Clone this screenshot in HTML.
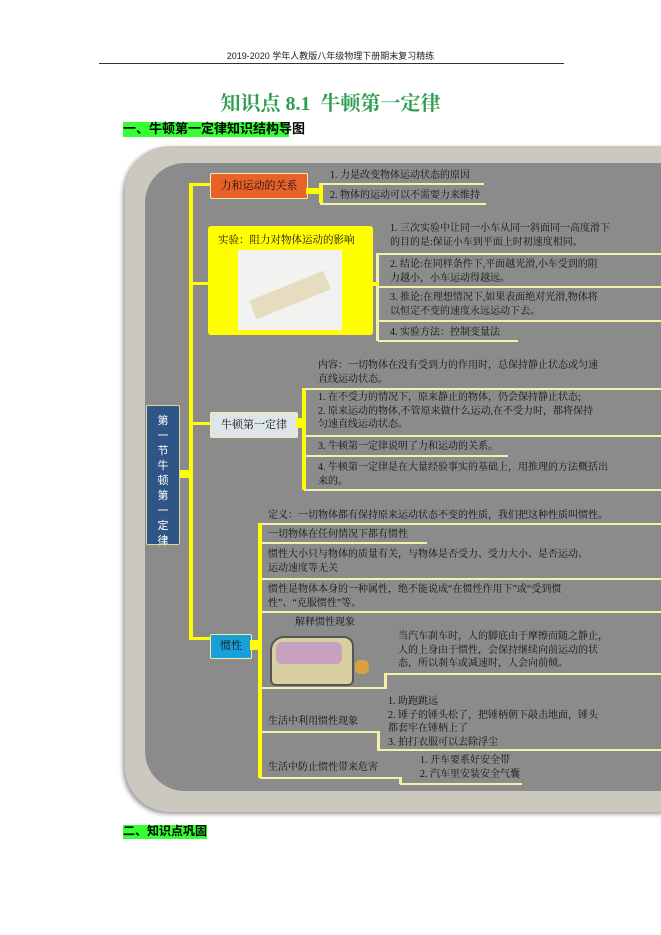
<!DOCTYPE html>
<html><head><meta charset="utf-8"><style>
body{margin:0;width:661px;height:935px;background:#fff;position:relative;overflow:hidden;font-family:"Liberation Serif","Noto Serif CJK SC","Noto Sans CJK SC",serif;}
.a{position:absolute;white-space:nowrap;}
.t{position:absolute;white-space:nowrap;font-size:10px;color:#111;line-height:13.5px;}
.l{position:absolute;height:2px;background:#f4f0a8;}
.v{position:absolute;width:3px;background:#f4f0a8;}
.y{position:absolute;background:#ffff00;}
</style></head><body>
<div class="a" style="left:0;width:661px;top:49px;text-align:center;font-size:9px;font-family:'Liberation Sans','Noto Sans CJK SC',sans-serif;color:#222">2019-2020 学年人教版八年级物理下册期末复习精练</div>
<div class="a" style="left:99px;top:63px;width:465px;height:1px;background:#333"></div>
<div class="a" style="left:0;width:661px;top:87px;text-align:center;font-size:20px;color:#2e9e50;font-weight:bold">知识点 8.1&nbsp; 牛顿第一定律</div>
<div class="a" style="left:123px;top:122px;width:166px;height:15px;background:#33ff33"></div>
<div class="a" style="left:123px;top:121px;font-size:13px;font-weight:bold;font-family:'Liberation Sans','Noto Sans CJK SC',sans-serif;color:#000;line-height:16px">一、牛顿第一定律知识结构导图</div>

<div class="a" style="left:125px;top:146px;width:580px;height:666px;background:#cbc8bf;border-radius:45px;box-shadow:-2px 2px 4px #999"></div>
<div class="a" style="left:145px;top:163px;width:560px;height:628px;background:#8b8b8b;border-radius:40px"></div>

<!-- central -->
<div class="a" style="left:146px;top:405px;width:34px;height:140px;background:#2f5486;border:1px solid #d8d8a0;border-radius:2px;color:#fff;font-size:11px;line-height:15px;text-align:center;padding-top:8px;box-sizing:border-box;white-space:normal;font-family:'Liberation Sans','Noto Sans CJK SC',sans-serif">第<br>一<br>节<br>牛<br>顿<br>第<br>一<br>定<br>律</div>
<div class="y" style="left:180px;top:470px;width:10px;height:8px"></div>
<div class="y" style="left:189px;top:183px;width:4px;height:456px"></div>
<div class="y" style="left:189px;top:183px;width:22px;height:3px"></div>
<div class="y" style="left:189px;top:282px;width:20px;height:3px"></div>
<div class="y" style="left:189px;top:422px;width:22px;height:3px"></div>
<div class="y" style="left:189px;top:637px;width:22px;height:3px"></div>

<!-- nodes -->
<div class="a" style="left:210px;top:173px;width:96px;height:24px;background:#e8622a;border:1px solid #f4f0a8;border-radius:2px;font-size:11px;line-height:24px;text-align:center;color:#111">力和运动的关系</div>
<div class="a" style="left:208px;top:226px;width:165px;height:109px;background:#ffff00;border-radius:3px"></div>
<div class="a" style="left:218px;top:232px;font-size:10.5px;color:#111">实验：阻力对物体运动的影响</div>
<div class="a" style="left:238px;top:250px;width:104px;height:80px;background:#f2f2f0"></div>
<div class="a" style="left:250px;top:285px;width:80px;height:20px;background:#e6dcc0;transform:rotate(-22deg)"></div>
<div class="a" style="left:210px;top:412px;width:86px;height:24px;background:#dde5ea;border:1px solid #f4f0a8;border-radius:2px;font-size:11px;line-height:24px;text-align:center;color:#111">牛顿第一定律</div>
<div class="a" style="left:210px;top:634px;width:40px;height:23px;background:#1aa0d8;border:1px solid #f4f0a8;border-radius:2px;font-size:11px;line-height:23px;text-align:center;color:#111">惯性</div>

<!-- branch 1 -->
<div class="v" style="left:319px;top:183px;height:20px;background:#ffff00;width:4px"></div>
<div class="y" style="left:306px;top:188px;width:14px;height:6px"></div>
<div class="t" style="left:330px;top:169px">1. 力是改变物体运动状态的原因</div>
<div class="l" style="left:320px;top:183px;width:164px"></div>
<div class="t" style="left:330px;top:189px">2. 物体的运动可以不需要力来维持</div>
<div class="l" style="left:320px;top:203px;width:166px"></div>

<!-- experiment -->
<div class="v" style="left:376px;top:253px;height:88px"></div>
<div class="y" style="left:372px;top:282px;width:6px;height:4px"></div>
<div class="t" style="left:390px;top:222px">1. 三次实验中让同一小车从同一斜面同一高度滑下<br>的目的是:保证小车到平面上时初速度相同。</div>
<div class="l" style="left:378px;top:253px;width:290px"></div>
<div class="t" style="left:390px;top:258px">2. 结论:在同样条件下,平面越光滑,小车受到的阻<br>力越小，小车运动得越远。</div>
<div class="l" style="left:378px;top:286px;width:290px"></div>
<div class="t" style="left:390px;top:291px">3. 推论:在理想情况下,如果表面绝对光滑,物体将<br>以恒定不变的速度永远运动下去。</div>
<div class="l" style="left:378px;top:320px;width:290px"></div>
<div class="t" style="left:390px;top:326px">4. 实验方法：控制变量法</div>
<div class="l" style="left:378px;top:340px;width:140px"></div>

<!-- newton -->
<div class="v" style="left:302px;top:388px;height:102px;background:#ffff00;width:4px"></div>
<div class="y" style="left:296px;top:418px;width:8px;height:10px"></div>
<div class="t" style="left:318px;top:359px">内容：一切物体在没有受到力的作用时，总保持静止状态或匀速<br>直线运动状态。</div>
<div class="l" style="left:304px;top:388px;width:360px"></div>
<div class="t" style="left:318px;top:391px">1. 在不受力的情况下，原来静止的物体，仍会保持静止状态;<br>2. 原来运动的物体,不管原来做什么运动,在不受力时，都将保持<br>匀速直线运动状态。</div>
<div class="l" style="left:304px;top:435px;width:360px"></div>
<div class="t" style="left:318px;top:440px">3. 牛顿第一定律说明了力和运动的关系。</div>
<div class="l" style="left:304px;top:455px;width:204px"></div>
<div class="t" style="left:318px;top:461px">4. 牛顿第一定律是在大量经验事实的基础上，用推理的方法概括出<br>来的。</div>
<div class="l" style="left:304px;top:489px;width:360px"></div>

<!-- inertia -->
<div class="v" style="left:258px;top:523px;height:255px;background:#ffff00;width:4px"></div>
<div class="y" style="left:250px;top:640px;width:10px;height:10px"></div>
<div class="t" style="left:268px;top:509px">定义：一切物体都有保持原来运动状态不变的性质，我们把这种性质叫惯性。</div>
<div class="l" style="left:260px;top:523px;width:404px"></div>
<div class="t" style="left:268px;top:528px">一切物体在任何情况下都有惯性</div>
<div class="l" style="left:260px;top:542px;width:167px"></div>
<div class="t" style="left:268px;top:548px">惯性大小只与物体的质量有关，与物体是否受力、受力大小、是否运动、<br>运动速度等无关</div>
<div class="l" style="left:260px;top:578px;width:404px"></div>
<div class="t" style="left:268px;top:583px">惯性是物体本身的一种属性，绝不能说成“在惯性作用下”或“受到惯<br>性”、“克服惯性”等。</div>
<div class="l" style="left:260px;top:611px;width:404px"></div>
<div class="t" style="left:295px;top:616px">解释惯性现象</div>
<div class="a" style="left:270px;top:636px;width:80px;height:46px;background:#d8d0a0;border-radius:14px 10px 6px 6px;border:2px solid #555"></div>
<div class="a" style="left:276px;top:642px;width:66px;height:22px;background:#c8a0c0;border-radius:6px"></div>
<div class="a" style="left:355px;top:660px;width:14px;height:14px;background:#d8a040;border-radius:5px"></div>
<div class="t" style="left:398px;top:630px">当汽车刹车时，人的脚底由于摩擦而随之静止，<br>人的上身由于惯性，会保持继续向前运动的状<br>态，所以刹车或减速时，人会向前倾。</div>
<div class="l" style="left:385px;top:673px;width:280px"></div>
<div class="v" style="left:384px;top:673px;height:16px"></div>
<div class="l" style="left:260px;top:687px;width:126px"></div>
<div class="t" style="left:388px;top:695px">1. 助跑跳远<br>2. 锤子的锤头松了，把锤柄朝下敲击地面，锤头<br>都套牢在锤柄上了<br>3. 拍打衣服可以去除浮尘</div>
<div class="t" style="left:268px;top:715px">生活中利用惯性现象</div>
<div class="l" style="left:260px;top:731px;width:118px"></div>
<div class="v" style="left:377px;top:731px;height:20px"></div>
<div class="l" style="left:378px;top:749px;width:286px"></div>
<div class="t" style="left:420px;top:754px">1. 开车要系好安全带<br>2. 汽车里安装安全气囊</div>
<div class="t" style="left:268px;top:761px">生活中防止惯性带来危害</div>
<div class="l" style="left:260px;top:777px;width:140px"></div>
<div class="v" style="left:399px;top:777px;height:7px"></div>
<div class="l" style="left:400px;top:783px;width:122px"></div>

<div class="a" style="left:123px;top:825px;width:84px;height:14px;background:#33ff33"></div>
<div class="a" style="left:123px;top:823px;font-size:12px;font-weight:bold;font-family:'Liberation Sans','Noto Sans CJK SC',sans-serif;color:#000;line-height:16px">二、知识点巩固</div>
</body></html>
